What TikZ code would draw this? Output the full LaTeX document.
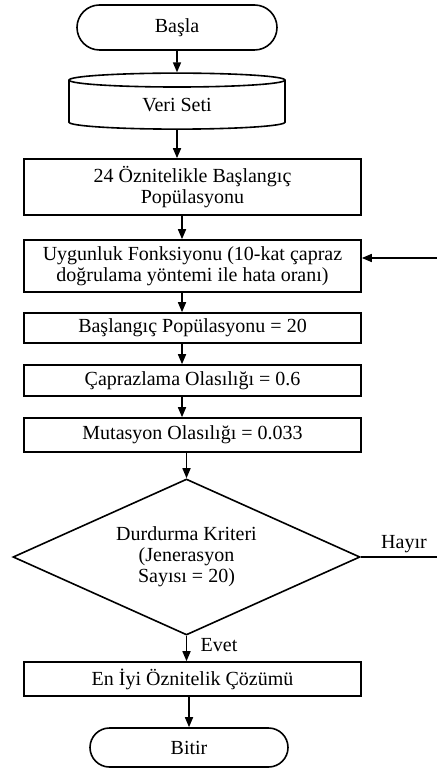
\documentclass[tikz,border=0pt]{standalone}
\usepackage{fontspec}
\setmainfont{Liberation Serif}
\usetikzlibrary{positioning,shapes.geometric,shapes.misc,arrows.meta}

\tikzset{
  flowline/.style={line width=0.8pt},
  arrowline/.style={flowline, -{Triangle[length=5pt,width=4pt]}},
  procbox/.style={draw, flowline, rectangle, minimum width=168.5pt, inner sep=0pt, align=center},
  terminal/.style={draw, flowline, rounded rectangle, inner sep=0pt},
  dbase/.style={draw, flowline, cylinder, shape border rotate=90, aspect=0.2, inner sep=0pt,
    minimum width=108pt, minimum height=28pt},
  decision/.style={draw, flowline, diamond, aspect=2.22, inner sep=0pt,
    minimum width=173.5pt, minimum height=78pt, align=center}
}

\begin{document}
\begin{tikzpicture}[x=0.5pt, y=-0.5pt, every node/.style={font=\fontsize{10}{10.5}\selectfont}]

\useasboundingbox (0,0) rectangle (437,769);

% start and data set
\node[terminal, minimum width=100pt, minimum height=22.5pt] (start) at (177,27.5) {Başla};
\node[dbase] (data) at (177,105) {Veri Seti};

% GA set-up steps
\node[procbox, minimum height=28pt] (initpop) at (192.5,187) {24 Öznitelikle Başlangıç\\Popülasyonu};
\node[procbox, minimum height=26pt] (fitness) at (192.5,266) {Uygunluk Fonksiyonu (10-kat çapraz\\doğrulama yöntemi ile hata oranı)};
\node[procbox, minimum height=15pt] (popsize) at (192.5,328) {Başlangıç Popülasyonu = 20};
\node[procbox, minimum height=15.5pt] (crossp) at (192.5,380.5) {Çaprazlama Olasılığı = 0.6};
\node[procbox, minimum height=17pt] (mutp) at (192.5,435) {Mutasyon Olasılığı = 0.033};

% stopping test
\node[decision] (stopcond) at (186.5,557) {Durdurma Kriteri\\(Jenerasyon\\Sayısı = 20)};
\node (no) at (404,544) {Hayır};
\node (yes) at (219,645) {Evet};

% result and end
\node[procbox, minimum height=17pt] (best) at (192.5,679) {En İyi Öznitelik Çözümü};
\node[terminal, minimum width=99pt, minimum height=19.5pt] (finish) at (189,747.5) {Bitir};

\coordinate (spine) at (182,0);
\coordinate (loopB) at (437,557);
\coordinate (loopT) at (437,258);

% connectors
\draw[arrowline] (start.south) -- (data.north);
\draw[arrowline] (data.south) -- (data.south |- initpop.north);
\draw[arrowline] (spine |- initpop.south) -- (spine |- fitness.north);
\draw[arrowline] (spine |- fitness.south) -- (spine |- popsize.north);
\draw[arrowline] (spine |- popsize.south) -- (spine |- crossp.north);
\draw[arrowline] (spine |- crossp.south) -- (spine |- mutp.north);
\draw[arrowline] (stopcond.north |- mutp.south) -- (stopcond.north);
\draw[arrowline] (stopcond.south) -- (stopcond.south |- best.north);
\draw[arrowline] (finish.north |- best.south) -- (finish.north);

% loop back (runs off the right edge)
\draw[flowline] (stopcond.east) -- (stopcond.east -| loopB);
\draw[arrowline] (loopT) -- (loopT -| fitness.east);

\end{tikzpicture}
\end{document}
